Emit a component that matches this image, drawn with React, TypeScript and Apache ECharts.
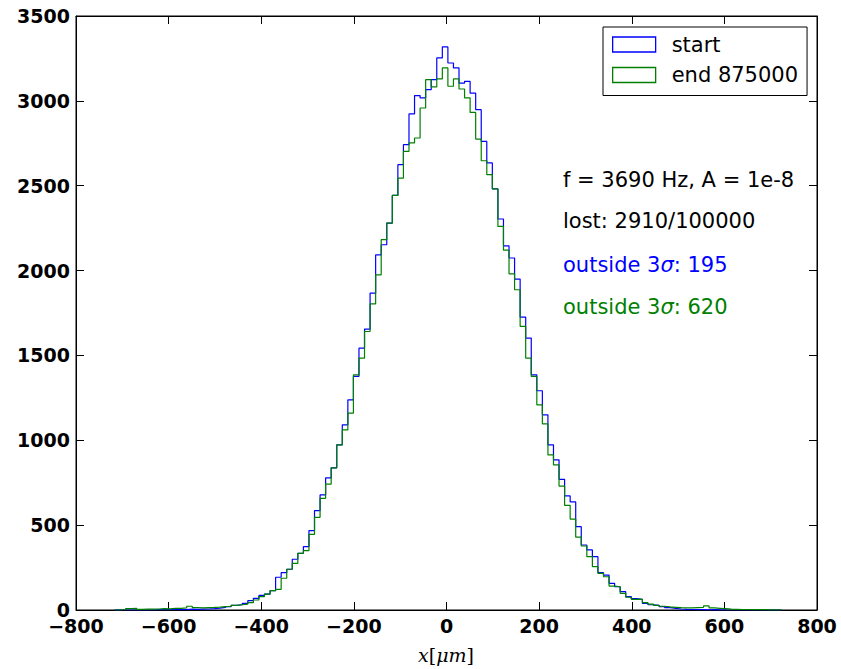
import React, { useEffect, useRef } from 'react';
import * as echarts from 'echarts';

// Histogram bins (left edge of first bin and width, in µm)
const binStart = -717;
const binWidth = 12;

// Counts per bin
const startCounts = [
  0, 0, 0, 0, 0, 0, 0, 2, 2, 3,
  4, 2, 3, 5, 4, 5, 6, 8, 11, 15,
  20, 27, 31, 39, 55, 69, 86, 94, 114, 193,
  220, 240, 299, 334, 373, 468, 586, 678, 779, 838,
  973, 1091, 1238, 1376, 1543, 1655, 1867, 2093, 2152, 2280,
  2443, 2624, 2742, 2923, 3031, 3017, 3066, 3125, 3253, 3318,
  3223, 3194, 3105, 3115, 3046, 2948, 2761, 2634, 2481, 2304,
  2146, 2074, 1950, 1726, 1602, 1386, 1292, 1150, 973, 885,
  770, 672, 637, 491, 383, 354, 314, 220, 206, 157,
  137, 108, 79, 67, 63, 39, 31, 27, 20, 14,
  10, 6, 4, 3, 2, 2, 1, 2, 1, 0,
  0, 0, 0, 0, 0, 0, 0, 0, 0, 0,
];
const endCounts = [
  0, 3, 8, 10, 4, 6, 5, 6, 8, 7,
  9, 10, 12, 22, 14, 12, 14, 15, 17, 20,
  22, 27, 31, 35, 43, 59, 79, 94, 114, 122,
  187, 240, 275, 334, 350, 446, 546, 658, 742, 838,
  973, 1061, 1160, 1386, 1484, 1641, 1804, 1975, 2182, 2280,
  2443, 2545, 2702, 2752, 2781, 2958, 3125, 3082, 3129, 3194,
  3086, 3129, 3070, 3017, 2932, 2775, 2647, 2565, 2481, 2260,
  2120, 1981, 1887, 1671, 1484, 1376, 1209, 1097, 914, 855,
  730, 617, 536, 429, 377, 314, 255, 216, 196, 141,
  137, 98, 75, 63, 63, 43, 35, 27, 22, 18,
  16, 14, 13, 12, 14, 16, 24, 12, 10, 8,
  5, 4, 3, 3, 2, 3, 2, 1, 1, 0,
];

const seriesNames = ['start', 'end 875000'];
const seriesColors = ['#0000ff', '#008000'];

const xMin = -800;
const xMax = 800;
const xStep = 200;
const yMin = 0;
const yMax = 3500;
const yStep = 500;

const infoLines = ['f = 3690 Hz, A = 1e-8', 'lost: 2910/100000'];
const sigmaCounts = [195, 620];

function stepPoints(counts: number[]): number[][] {
  const pts: number[][] = [[binStart, 0]];
  counts.forEach((c, i) => {
    const l = binStart + i * binWidth;
    pts.push([l, c], [l + binWidth, c]);
  });
  pts.push([binStart + counts.length * binWidth, 0]);
  return pts;
}

const minus = (v: number) => String(v).replace('-', '\u2212');

export default function App() {
  const ref = useRef<HTMLDivElement>(null);
  useEffect(() => {
    if (!ref.current) return;
    const chart = echarts.init(ref.current, null, { renderer: 'svg' });
    const tickFont = {
      fontFamily: 'DejaVu Sans',
      fontWeight: 'bold' as const,
      fontSize: 19,
      color: '#000',
    };
    const baseX = {
      type: 'value' as const,
      min: xMin,
      max: xMax,
      interval: xStep,
      splitLine: { show: false },
      axisLine: { show: true, onZero: false, lineStyle: { color: '#000', width: 1 } },
      axisTick: { show: true, inside: true, length: 8, lineStyle: { color: '#000', width: 1 } },
    };
    const baseY = {
      type: 'value' as const,
      min: yMin,
      max: yMax,
      interval: yStep,
      splitLine: { show: false },
      axisLine: { show: true, onZero: false, lineStyle: { color: '#000', width: 1 } },
      axisTick: { show: true, inside: true, length: 8, lineStyle: { color: '#000', width: 1 } },
    };
    const textFont = { fontFamily: 'DejaVu Sans', fontSize: 21 };
    chart.setOption({
      animation: false,
      backgroundColor: '#fff',
      grid: { left: 76, right: 24, top: 16, bottom: 59, show: true, borderColor: '#000', borderWidth: 1 },
      xAxis: [
        { ...baseX, position: 'bottom', axisLabel: { ...tickFont, margin: 6, formatter: minus } },
        { ...baseX, position: 'top', axisLabel: { show: false } },
      ],
      yAxis: [
        { ...baseY, position: 'left', axisLabel: { ...tickFont, margin: 6, formatter: minus } },
        { ...baseY, position: 'right', axisLabel: { show: false } },
      ],
      legend: {
        orient: 'vertical',
        left: 603,
        top: 27,
        padding: [7, 9, 10, 9],
        itemGap: 9.5,
        itemWidth: 43,
        itemHeight: 15,
        icon: 'rect',
        borderColor: '#000',
        borderWidth: 1,
        borderRadius: 0,
        backgroundColor: '#fff',
        textStyle: { ...textFont, color: '#000', lineHeight: 21, padding: [0, 0, 0, 11] },
        data: seriesNames.map((n, i) => ({
          name: n,
          itemStyle: { color: 'rgba(0,0,0,0)', borderColor: seriesColors[i], borderWidth: 1.3 },
        })),
      },
      series: [startCounts, endCounts].map((counts, i) => ({
        name: seriesNames[i],
        type: 'line',
        xAxisIndex: 0,
        yAxisIndex: 0,
        data: stepPoints(counts),
        showSymbol: false,
        symbol: 'none',
        color: seriesColors[i],
        lineStyle: { color: seriesColors[i], width: 1.2 },
        z: 2 + i,
      })),
      graphic: [
        ...infoLines.map((t, i) => ({
          type: 'text',
          x: 563,
          y: 180 + i * 41,
          style: { text: t, fill: '#000', ...textFont, verticalAlign: 'middle' },
        })),
        ...sigmaCounts.map((c, i) => ({
          type: 'text',
          x: 563,
          y: 265 + i * 42,
          style: {
            text: `outside 3{s|σ}: ${c}`,
            fill: seriesColors[i],
            ...textFont,
            verticalAlign: 'middle',
            rich: { s: { fontStyle: 'italic', fill: seriesColors[i], ...textFont } },
          },
        })),
        {
          type: 'text',
          x: 446,
          y: 655,
          style: {
            text: '{i|x}{n|[}{i|μm}{n|]}',
            align: 'center',
            verticalAlign: 'middle',
            fill: '#000',
            fontSize: 19,
            fontFamily: 'DejaVu Serif',
            rich: {
              i: { fontStyle: 'italic', fontFamily: 'DejaVu Serif', fontSize: 19, fill: '#000' },
              n: { fontFamily: 'DejaVu Serif', fontSize: 19, fill: '#000' },
            },
          },
        },
      ],
    });
    return () => chart.dispose();
  }, []);
  return (
    <div
      ref={ref}
      style={{ position: 'fixed', left: 0, top: 0, width: 841, height: 669, background: '#fff' }}
    />
  );
}
